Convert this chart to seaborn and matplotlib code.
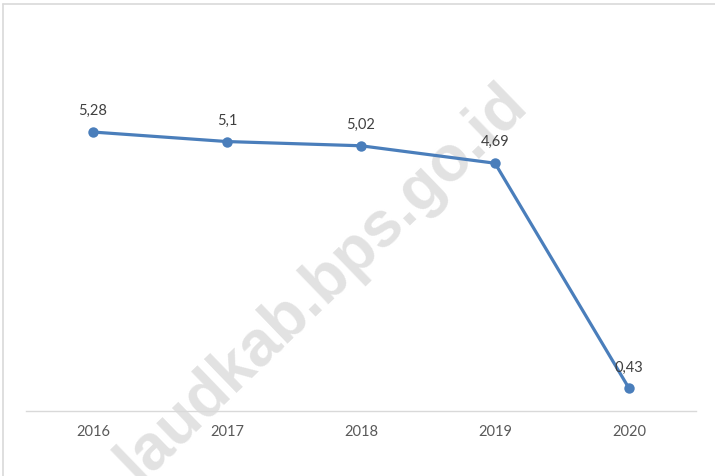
import matplotlib.pyplot as plt
import seaborn as sns
import pandas as pd
from matplotlib.lines import Line2D

tahun = ['2016', '2017', '2018', '2019', '2020']
nilai = [5.28, 5.1, 5.02, 4.69, 0.43]
label = ['5,28', '5,1', '5,02', '4,69', '0,43']

df = pd.DataFrame({'tahun': tahun, 'nilai': nilai})

sns.set_style('white')
plt.rcParams['font.family'] = ['Lato', 'DejaVu Sans']

fig = plt.figure(figsize=(7.15, 4.76), dpi=100)
ax = fig.add_axes([26 / 715, 1 - 411 / 476, 670 / 715, 317 / 476])

# watermark (behind the line and labels)
ax.text(0.45, 0.405, 'laudkab.bps.go.id', rotation=44, fontsize=46, fontweight='bold',
        color='#e2e2e2', ha='center', va='center', zorder=0, family='Liberation Sans',
        transform=fig.transFigure, clip_on=False)

sns.lineplot(data=df, x='tahun', y='nilai', ax=ax, color='#4a7ebb', linewidth=2.3,
             marker='o', markersize=7.5, markeredgewidth=0, sort=False, zorder=3)

for i, (v, t) in enumerate(zip(nilai, label)):
    ax.annotate(t, (i, v), xytext=(0, 10), textcoords='offset points',
                ha='center', va='bottom', fontsize=10.5, color='#404040', zorder=4)

ax.set_xlim(-0.5, 4.5)
ax.set_ylim(0, 6)
ax.set_xlabel('')
ax.set_ylabel('')
ax.set_yticks([])
ax.tick_params(axis='x', length=0, labelsize=10.5, labelcolor='#595959', pad=10)
for s in ['top', 'right', 'left']:
    ax.spines[s].set_visible(False)
ax.spines['bottom'].set_color('#d9d9d9')
ax.spines['bottom'].set_linewidth(1)
ax.patch.set_alpha(0)

# chart border
fig.add_artist(Line2D([3 / 715, 1], [1 - 4 / 476, 1 - 4 / 476], color='#d9d9d9', lw=1.2))
fig.add_artist(Line2D([3 / 715, 3 / 715], [0, 1 - 4 / 476], color='#d9d9d9', lw=1.2))

fig.savefig('out.png', dpi=100)
